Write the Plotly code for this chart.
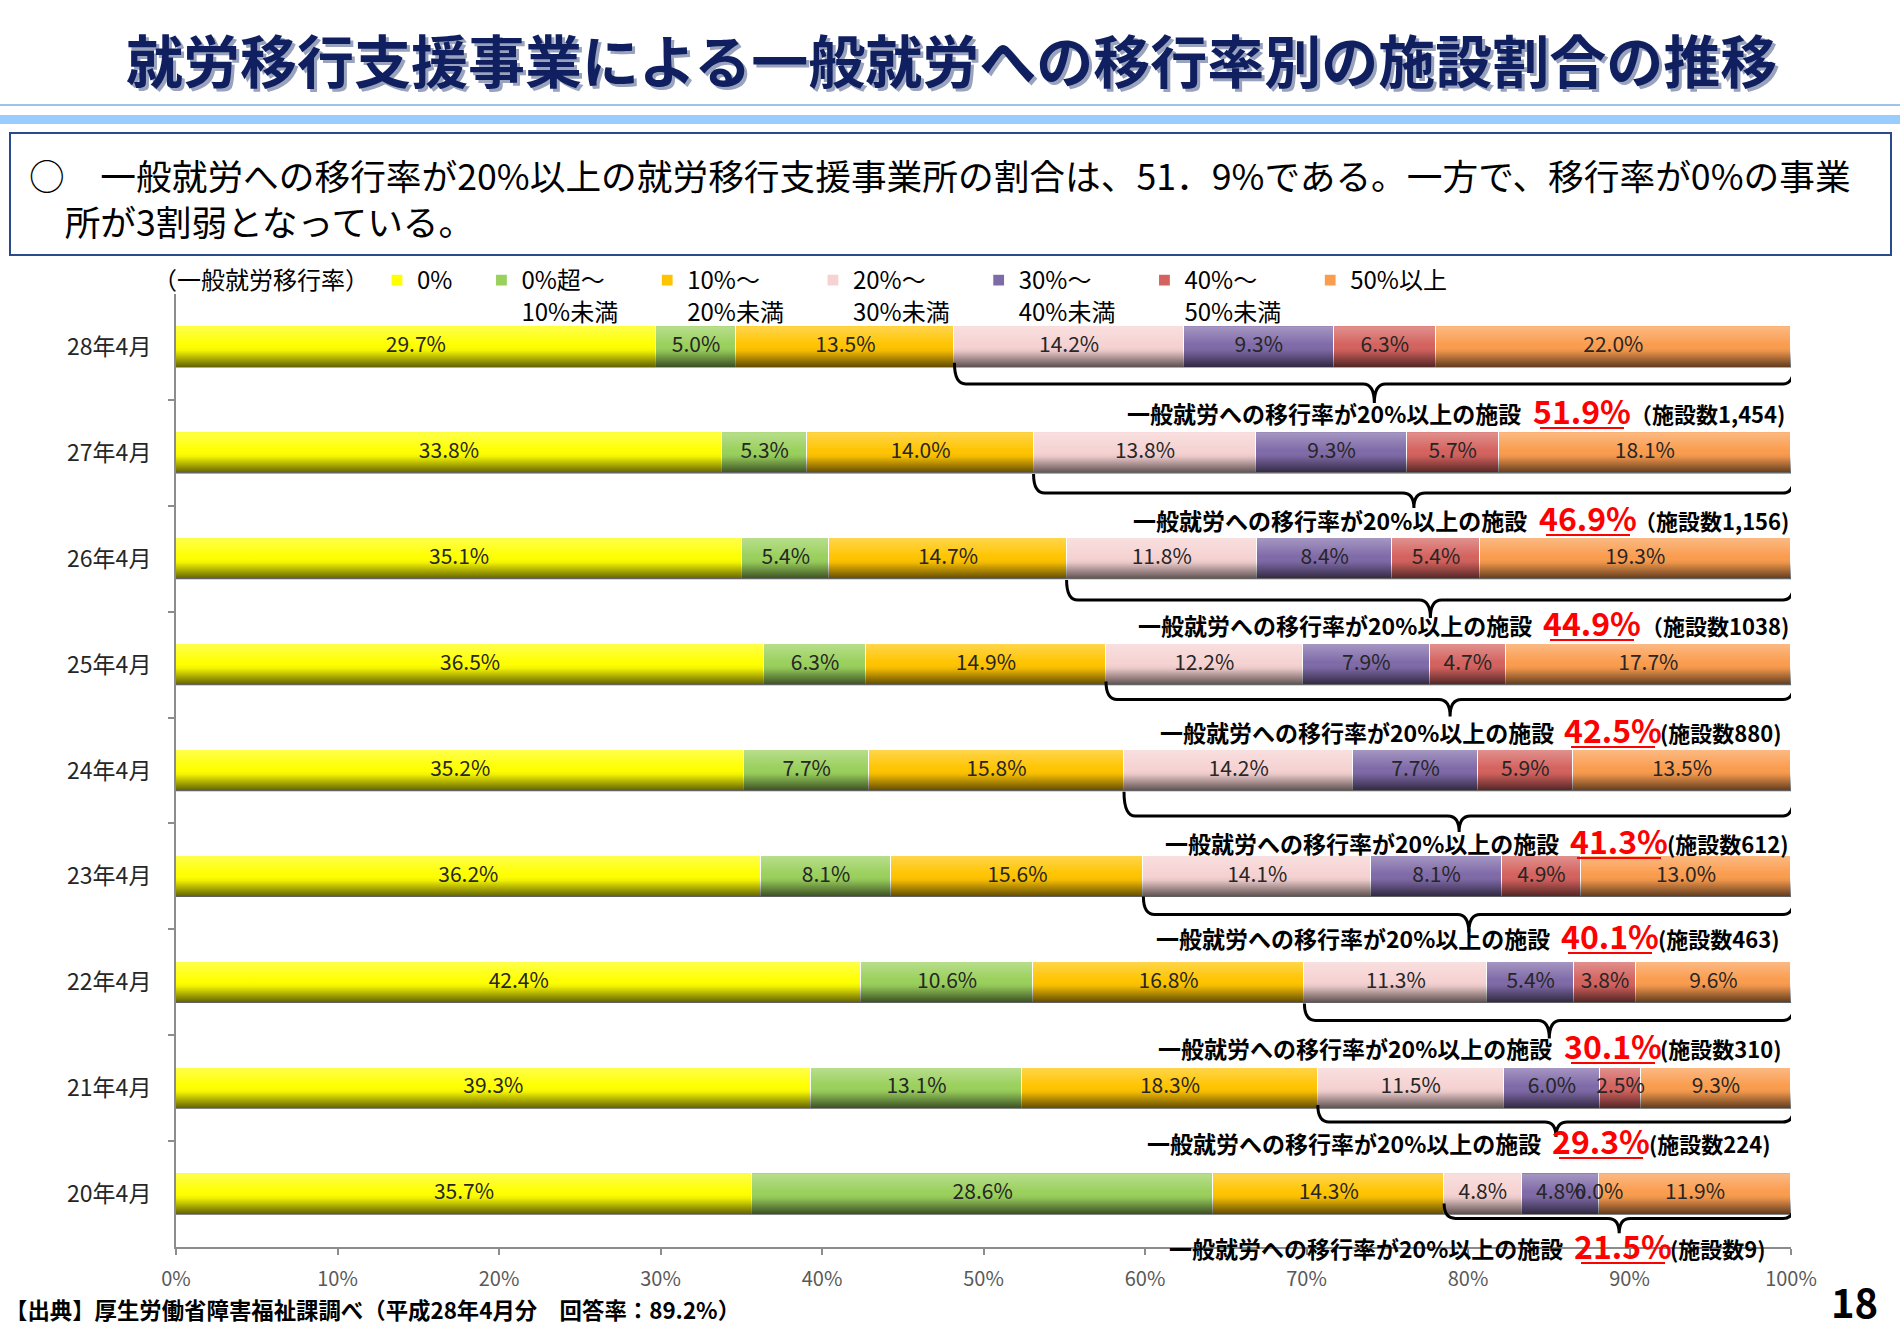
import plotly.graph_objects as go

# ---------------- data ----------------
periods = ["28年4月", "27年4月", "26年4月", "25年4月", "24年4月", "23年4月", "22年4月", "21年4月", "20年4月"]
cat_names = ["0%", "0%超～<br>10%未満", "10%～<br>20%未満", "20%～<br>30%未満",
             "30%～<br>40%未満", "40%～<br>50%未満", "50%以上"]
v_0 = [29.7, 33.8, 35.1, 36.5, 35.2, 36.2, 42.4, 39.3, 35.7]
v_0_10 = [5.0, 5.3, 5.4, 6.3, 7.7, 8.1, 10.6, 13.1, 28.6]
v_10_20 = [13.5, 14.0, 14.7, 14.9, 15.8, 15.6, 16.8, 18.3, 14.3]
v_20_30 = [14.2, 13.8, 11.8, 12.2, 14.2, 14.1, 11.3, 11.5, 4.8]
v_30_40 = [9.3, 9.3, 8.4, 7.9, 7.7, 8.1, 5.4, 6.0, 4.8]
v_40_50 = [6.3, 5.7, 5.4, 4.7, 5.9, 4.9, 3.8, 2.5, 0.0]
v_50 = [22.0, 18.1, 19.3, 17.7, 13.5, 13.0, 9.6, 9.3, 11.9]
share_20plus = ["51.9%", "46.9%", "44.9%", "42.5%", "41.3%", "40.1%", "30.1%", "29.3%", "21.5%"]
facility_counts = ["（施設数1,454)", "（施設数1,156)", "（施設数1038)", "(施設数880)", "(施設数612)",
                   "(施設数463)", "(施設数310)", "(施設数224)", "(施設数9)"]
x_ticks = [0, 10, 20, 30, 40, 50, 60, 70, 80, 90, 100]

series = [v_0, v_0_10, v_10_20, v_20_30, v_30_40, v_40_50, v_50]

# ---------------- styling / layout ----------------
cat_colors = ["#ffff00", "#9ad05c", "#ffc400", "#f6d2d2", "#7f6aa8", "#d4625e", "#fa9c4e"]
FONT = "Noto Sans CJK JP"
W, H = 1900, 1343
PL, PR, PT, PB = 176, 1791, 294, 1247
BAR_W = 0.39
PAD = "\u3000"


def px(x):
    return (x - PL) / (PR - PL)


def py(y):
    return (PB - y) / (PB - PT)


rows = list(range(len(periods)))
totals = [sum(s[i] for s in series) for i in rows]
lefts, mids = [], []
for k, s in enumerate(series):
    lk, mk = [], []
    for i in rows:
        before = sum(series[j][i] for j in range(k)) / totals[i] * 100
        lk.append(before)
        mk.append(before + s[i] / totals[i] * 100 / 2)
    lefts.append(lk)
    mids.append(mk)

fig = go.Figure()

for name, vals, col in zip(cat_names, series, cat_colors):
    legend_name = "<br>".join(part + PAD for part in name.split("<br>"))
    fig.add_trace(go.Bar(
        y=rows, x=vals, orientation="h", name=legend_name, width=BAR_W,
        marker=dict(color=col, line=dict(color="white", width=1.2)),
        hovertemplate="%{x:.1f}%<extra></extra>",
    ))

# gradient shading over each bar row (Excel-like gradient fill)
SHADE = [[0.0, "rgba(255,255,255,0.30)"], [0.12, "rgba(255,255,255,0.22)"],
         [0.45, "rgba(255,255,255,0.0)"], [0.60, "rgba(0,0,0,0.06)"],
         [1.0, "rgba(0,0,0,0.64)"]]
for i in rows:
    y0, y1 = i - BAR_W / 2, i + BAR_W / 2
    fig.add_trace(go.Scatter(
        x=[0, 100, 100, 0, 0], y=[y0, y0, y1, y1, y0], fill="toself", mode="none",
        fillgradient=dict(type="vertical", start=y0, stop=y1, colorscale=SHADE),
        showlegend=False, hoverinfo="skip"))

# value labels on segments
for k, s in enumerate(series):
    fig.add_trace(go.Scatter(
        x=mids[k], y=rows, mode="text", text=[f"{v:.1f}%" for v in s],
        textfont=dict(family=FONT, size=21, color="#262626"),
        showlegend=False, hoverinfo="skip", cliponaxis=False))

# braces under the 20%+ segments
brace_end = [0.15, 0.20, 0.20, 0.16, 0.20, 0.19, 0.20, 0.16, 0.09]
brace_mid = [0.35, 0.38, 0.39, 0.33, 0.43, 0.36, 0.36, 0.32, 0.23]
brace_tip = [0.53, 0.52, 0.56, 0.49, 0.58, 0.53, 0.53, 0.46, 0.37]
shapes = []
for i in rows:
    xl = lefts[3][i]
    xr = 100.2
    xm = (xl + xr) / 2
    rx = 0.7
    yt, yh, yb = i + brace_end[i], i + brace_mid[i], i + brace_tip[i]
    path = (f"M{xl},{yt} Q{xl},{yh} {xl + rx},{yh} L{xm - rx},{yh} "
            f"Q{xm},{yh} {xm},{yb} Q{xm},{yh} {xm + rx},{yh} "
            f"L{xr - rx},{yh} Q{xr},{yh} {xr},{yt}")
    shapes.append(dict(type="path", path=path, xref="x", yref="y",
                       line=dict(color="black", width=3), layer="above"))

# summary labels (positions in pixels of the page)
label_prefix_end_px = [1522, 1528, 1533, 1555, 1560, 1551, 1553, 1542, 1564]
label_value_center_px = [1582, 1588, 1592, 1613, 1619, 1610, 1613, 1601, 1623]
label_count_end_px = [1786, 1790, 1790, 1783, 1790, 1781, 1783, 1772, 1767]
label_y_px = [413, 520, 625, 732, 843, 938, 1048, 1143, 1248]

annotations = []
for i in rows:
    yy = py(label_y_px[i])
    annotations.append(dict(text="<b>一般就労への移行率が20%以上の施設</b>", x=px(label_prefix_end_px[i]), y=yy,
                            xref="paper", yref="paper", xanchor="right", yanchor="middle", showarrow=False,
                            font=dict(family=FONT, size=23, color="black"), borderpad=0))
    annotations.append(dict(text=f"<b>{share_20plus[i]}</b>", x=px(label_value_center_px[i]), y=py(label_y_px[i] - 3),
                            xref="paper", yref="paper", xanchor="center", yanchor="middle", showarrow=False,
                            font=dict(family=FONT, size=32, color="#ff0000"), borderpad=0))
    annotations.append(dict(text=f"<b>{facility_counts[i]}</b>", x=px(label_count_end_px[i]), y=yy,
                            xref="paper", yref="paper", xanchor="right", yanchor="middle", showarrow=False,
                            font=dict(family=FONT, size=22, color="black"), borderpad=0))
    shapes.append(dict(type="line", xref="paper", yref="paper",
                       x0=px(label_value_center_px[i] - 42), x1=px(label_value_center_px[i] + 42),
                       y0=py(label_y_px[i] + 15), y1=py(label_y_px[i] + 15),
                       line=dict(color="#ff0000", width=2)))

# title with slight shadow
title_text = "就労移行支援事業による一般就労への移行率別の施設割合の推移"
annotations.append(dict(text=f"<b>{title_text}</b>", x=px(954), y=py(61), xref="paper", yref="paper",
                        xanchor="center", yanchor="middle", showarrow=False,
                        font=dict(family=FONT, size=57, color="#9aa3bd")))
annotations.append(dict(text=f"<b>{title_text}</b>", x=px(951), y=py(58), xref="paper", yref="paper",
                        xanchor="center", yanchor="middle", showarrow=False,
                        font=dict(family=FONT, size=57, color="#0f1f5f")))

# header decoration lines
shapes.append(dict(type="line", xref="paper", yref="paper", x0=px(0), x1=px(W), y0=py(105), y1=py(105),
                   line=dict(color="#9cc3ec", width=2)))
shapes.append(dict(type="rect", xref="paper", yref="paper", x0=px(0), x1=px(W), y0=py(115), y1=py(124),
                   fillcolor="#99ccff", line=dict(width=0)))
# summary box
shapes.append(dict(type="rect", xref="paper", yref="paper", x0=px(10), x1=px(1891), y0=py(133), y1=py(255),
                   fillcolor="white", line=dict(color="#2b4a8c", width=2)))
annotations.append(dict(text="○　一般就労への移行率が20%以上の就労移行支援事業所の割合は、51．9%である。一方で、移行率が0%の事業"
                             "<br>\u3000所が3割弱となっている。",
                        x=px(27), y=py(197), xref="paper", yref="paper", xanchor="left", yanchor="middle",
                        align="left", showarrow=False, font=dict(family=FONT, size=35.7, color="black")))

# footer & page number
annotations.append(dict(text="<b>【出典】厚生労働省障害福祉課調べ（平成28年4月分　回答率：89.2%）</b>",
                        x=px(4), y=py(1309), xref="paper", yref="paper", xanchor="left", yanchor="middle",
                        showarrow=False, borderpad=0, font=dict(family=FONT, size=22.4, color="black")))
annotations.append(dict(text="<b>18</b>", x=px(1880), y=py(1301), xref="paper", yref="paper",
                        xanchor="right", yanchor="middle", showarrow=False,
                        font=dict(family=FONT, size=40, color="black")))

fig.update_layout(
    width=W, height=H,
    margin=dict(l=PL, r=W - PR, t=PT, b=H - PB, pad=0),
    paper_bgcolor="white", plot_bgcolor="white",
    barmode="stack", barnorm="percent", bargap=0,
    font=dict(family=FONT, color="black"),
    showlegend=True,
    legend=dict(orientation="h", x=px(151), y=py(258), xanchor="left", yanchor="top",
                bgcolor="rgba(0,0,0,0)", font=dict(family=FONT, size=24, color="black"),
                valign="top", traceorder="normal",
                title=dict(text="（一般就労移行率）", side="left", font=dict(family=FONT, size=24, color="black"))),
    xaxis=dict(range=[0, 100], tickvals=x_ticks, ticktext=[f"{t}%" for t in x_ticks],
               showline=True, linecolor="#8c8c8c", linewidth=2, ticks="outside", ticklen=6,
               tickcolor="#8c8c8c", tickwidth=1.5, showgrid=False, zeroline=False, ticklabelstandoff=7,
               tickfont=dict(family=FONT, size=20, color="#595959"), fixedrange=True),
    yaxis=dict(range=[8.5, -0.5], tickvals=rows, ticktext=periods, showline=True, linecolor="#8c8c8c",
               linewidth=2, ticks="", showgrid=False, zeroline=False, ticklabelstandoff=18,
               tickfont=dict(family=FONT, size=23, color="#262626"),
               minor=dict(tickmode="array", tickvals=[r + 0.5 for r in rows][:-1], ticks="outside",
                          ticklen=6, tickcolor="#8c8c8c", tickwidth=1.5),
               fixedrange=True),
    shapes=shapes,
    annotations=annotations,
)

fig.write_html("out.html", config={"displayModeBar": False},
               post_script="document.body.style.margin='0px';")
